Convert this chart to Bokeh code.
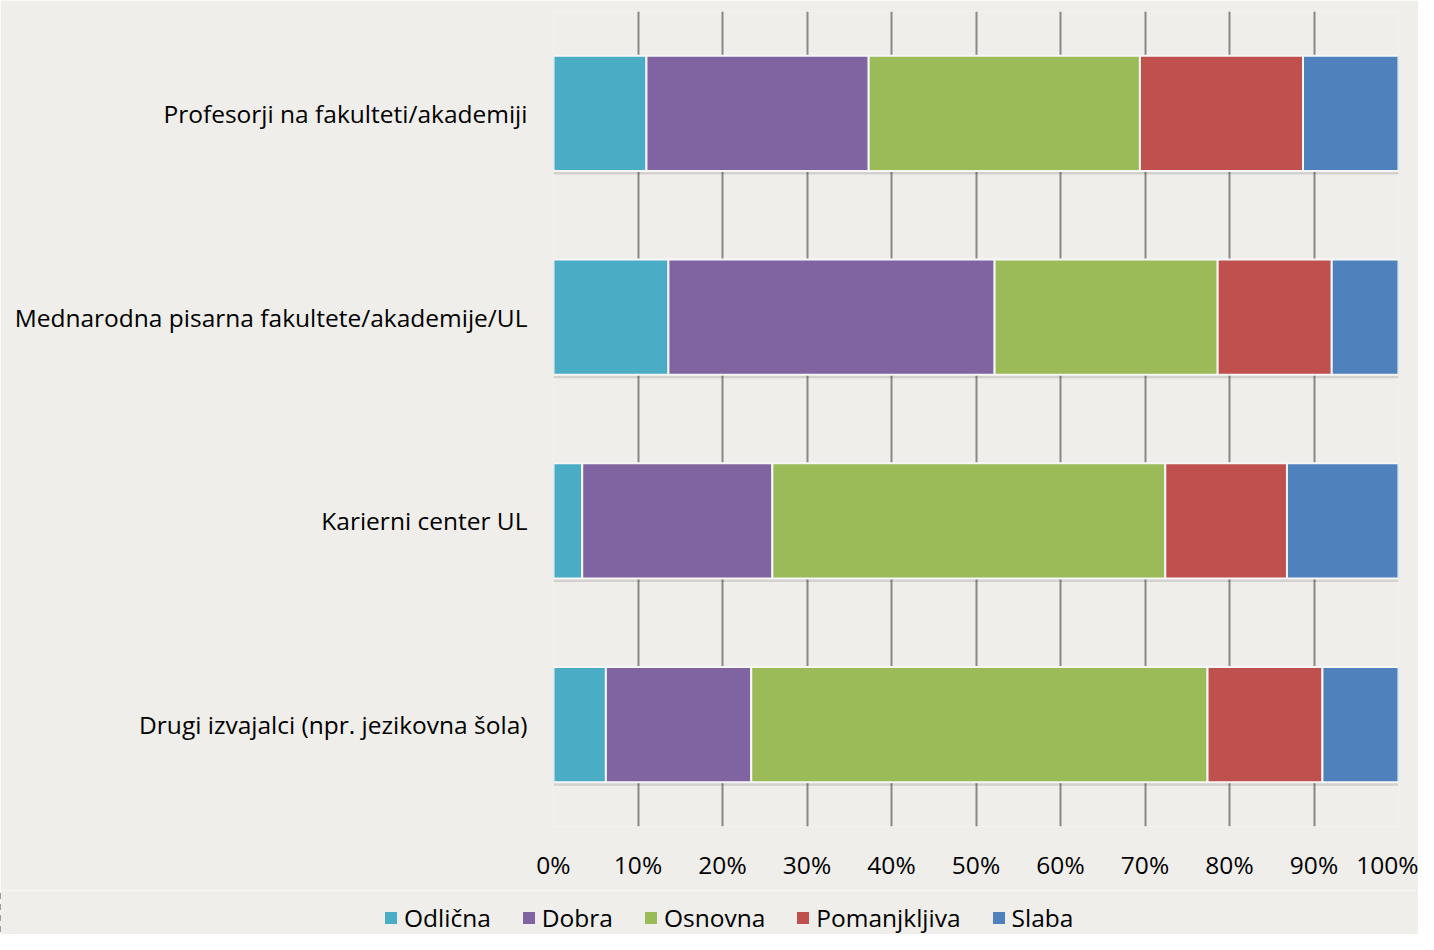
from bokeh.plotting import figure
from bokeh.layouts import column, row
from bokeh.models import FactorRange, Range1d, Legend, LegendItem, FixedTicker, CustomJSTickFormatter
from bokeh.transform import dodge
from bokeh.embed import file_html
from bokeh.resources import INLINE

categories = [
    "Profesorji na fakulteti/akademiji",
    "Mednarodna pisarna fakultete/akademije/UL",
    "Karierni center UL",
    "Drugi izvajalci (npr. jezikovna šola)",
]
series = ["Odlična", "Dobra", "Osnovna", "Pomanjkljiva", "Slaba"]
odlicna = [11.0, 13.6, 3.4, 6.2]
dobra = [26.3, 38.6, 22.5, 17.2]
osnovna = [32.1, 26.4, 46.5, 54.0]
pomanjkljiva = [19.3, 13.5, 14.4, 13.6]
slaba = [11.3, 7.9, 13.2, 9.0]
colors = ["#4BACC6", "#8064A2", "#9BBB59", "#C0504D", "#4F81BD"]
x_ticks = [0, 10, 20, 30, 40, 50, 60, 70, 80, 90, 100]

BG = "#EFEEEA"
FONT = "Open Sans"
FS = "24.5px"

data = {"cat": categories, "total": [a + b + c + d + e for a, b, c, d, e in
                                       zip(odlicna, dobra, osnovna, pomanjkljiva, slaba)]}
for name, vals in zip(series, [odlicna, dobra, osnovna, pomanjkljiva, slaba]):
    data[name] = vals

factors = list(reversed(categories))

p = figure(
    width=1418, height=890,
    y_range=FactorRange(factors=factors, range_padding=0),
    x_range=Range1d(0, 100),
    output_backend="svg", toolbar_location=None,
    min_border_left=553, min_border_right=20, min_border_top=11, min_border_bottom=64,
    background_fill_color=BG, border_fill_color=BG,
    outline_line_color=None,
)

# subtle shadow under each bar
p.hbar(y=dodge("cat", -0.018, range=p.y_range), left=0, right="total", height=0.565,
       source=data, fill_color="#000000", fill_alpha=0.12, line_color=None)

p.hbar_stack(series, y="cat", height=0.565, color=colors, source=data,
             line_color="#F7F7F7", line_width=2)

p.xaxis.ticker = FixedTicker(ticks=x_ticks)
p.xaxis.formatter = CustomJSTickFormatter(code="return tick + '%';")
p.xaxis.axis_line_color = None
p.xaxis.major_tick_line_color = None
p.xaxis.minor_tick_line_color = None
p.xaxis.major_label_standoff = 15
p.xaxis.major_label_text_font = FONT
p.xaxis.major_label_text_font_size = FS
p.xaxis.major_label_text_color = "#000000"

p.yaxis.axis_line_color = None
p.yaxis.major_tick_line_color = None
p.yaxis.minor_tick_line_color = None
p.yaxis.major_label_standoff = 20
p.yaxis.major_label_text_font = FONT
p.yaxis.major_label_text_font_size = FS
p.yaxis.major_label_text_color = "#000000"

p.ygrid.grid_line_color = None
p.xgrid.ticker = FixedTicker(ticks=x_ticks)
p.xgrid.grid_line_color = "#888888"
p.xgrid.grid_line_width = 2

# legend strip: same stacked bars, scrolled out of view, used only as legend sources
lf = figure(
    width=1418, height=44,
    y_range=FactorRange(factors=factors, range_padding=0),
    x_range=Range1d(101, 102),
    output_backend="svg", toolbar_location=None,
    x_axis_location=None, y_axis_location=None,
    min_border_left=0, min_border_right=0, min_border_top=0, min_border_bottom=0,
    background_fill_color=BG, border_fill_color=BG, outline_line_color=None,
)
lf.grid.grid_line_color = None
proxies = lf.hbar_stack(series, y="cat", height=0.565, color=colors, source=data,
                        line_color=None)

legend = Legend(
    items=[LegendItem(label=s, renderers=[r]) for s, r in zip(series, proxies)],
    orientation="horizontal", location=(383, 0),
    glyph_width=15, glyph_height=15, label_standoff=6, spacing=30,
    label_text_font=FONT, label_text_font_size=FS, label_text_color="#000000",
    background_fill_alpha=0, border_line_color=None, padding=2, margin=0,
)
lf.add_layout(legend, "center")

layout = column(p, row(lf, spacing=0), spacing=0)

open("out.html", "w").write(file_html(layout, INLINE))
